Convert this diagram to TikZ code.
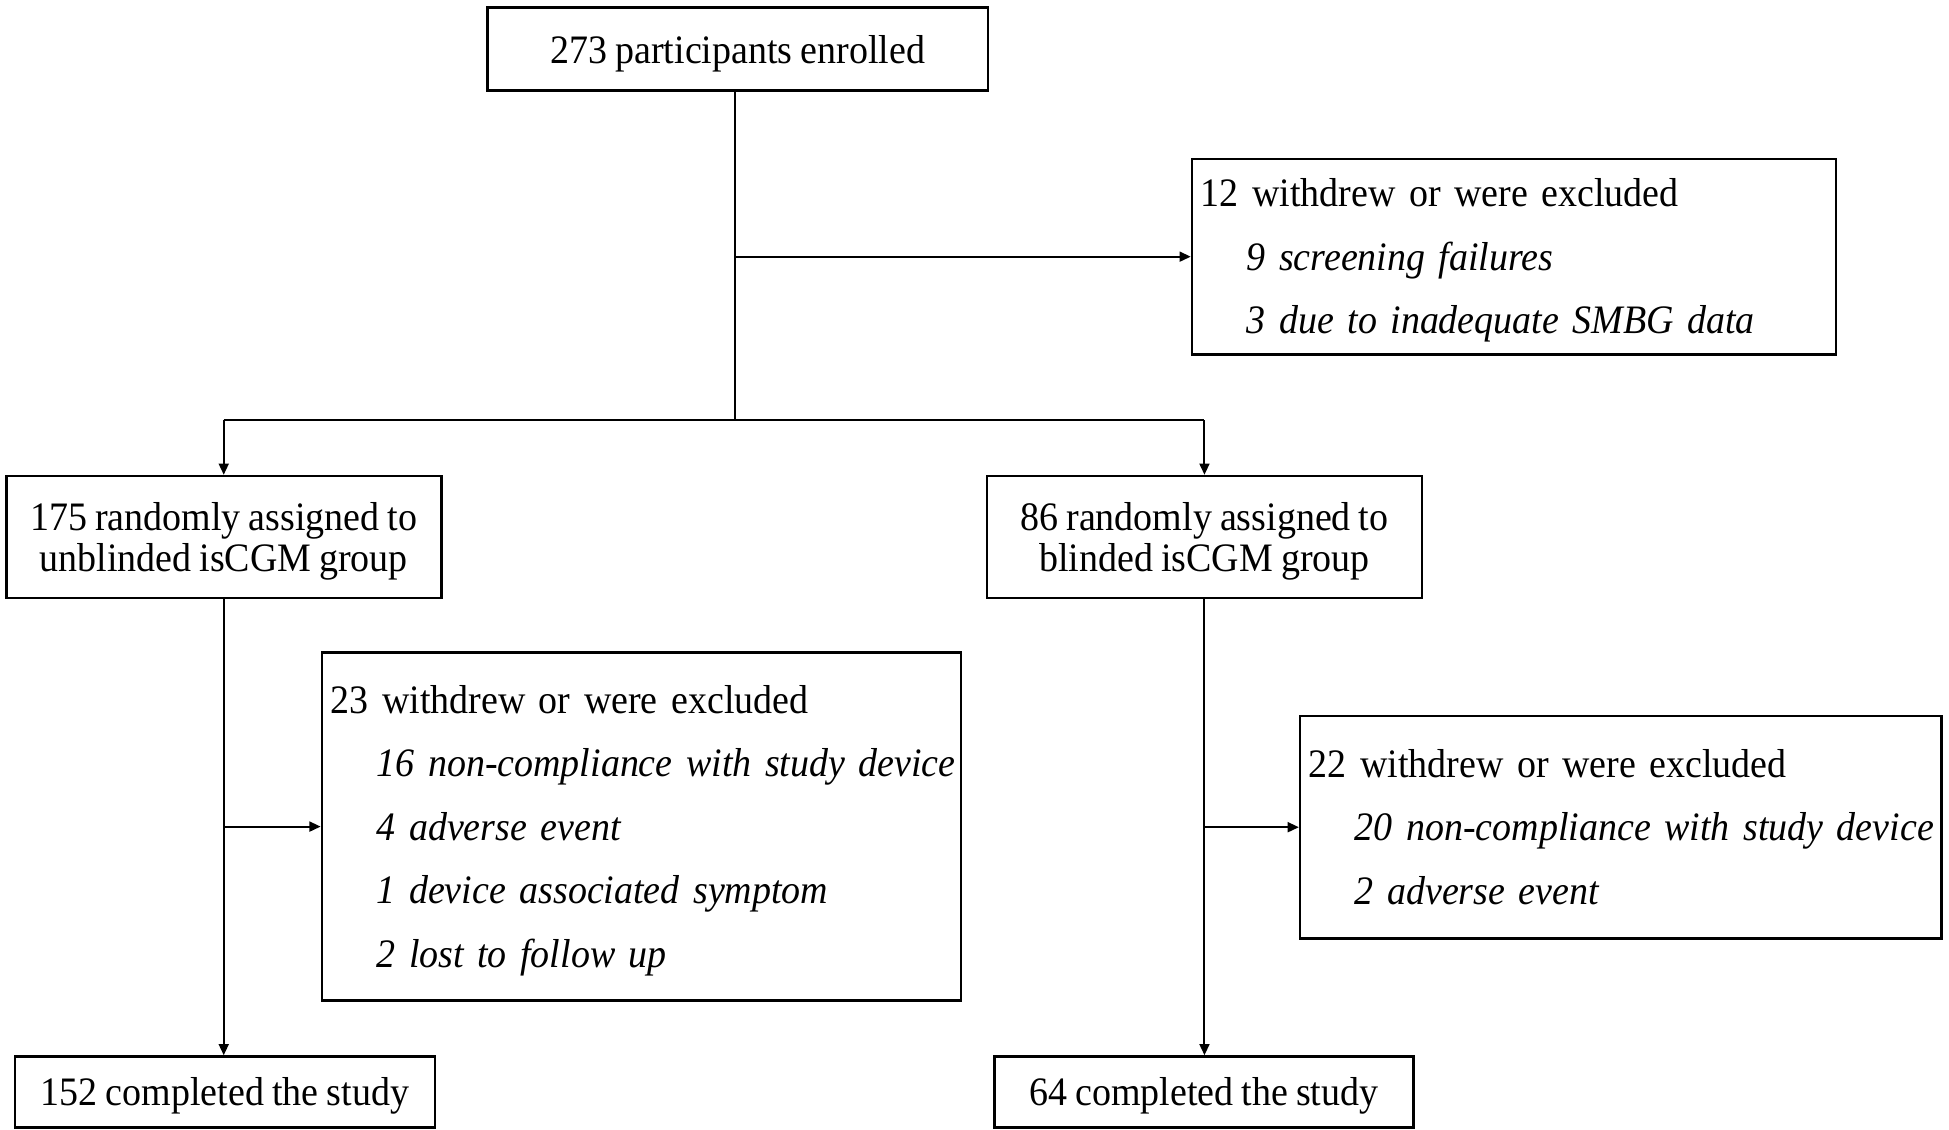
\documentclass[tikz,border=0pt]{standalone}
\usepackage{fontspec}
\setmainfont{Liberation Serif}[FakeStretch=0.94,WordSpace=0.85]
\usetikzlibrary{arrows.meta}
\begin{document}
\begin{tikzpicture}[x=1pt,y=-1pt,
  box/.style={draw, line width=2.1pt, inner sep=0pt, align=center, text depth=0pt,
    font=\fontsize{32.5}{33}\selectfont},
  exbox/.style={draw, line width=2.1pt, inner xsep=7pt, inner ysep=0pt, align=left,
    text height=22pt, font=\fontsize{32.5}{51}\selectfont},
  conn/.style={line width=1.6pt},
  arr/.style={line width=1.6pt, -{Triangle[length=9pt,width=8pt]}}]
\useasboundingbox (0,0) rectangle (1568,909);
\fill[white] (0,0) rectangle (1568,909);
\newcommand{\ind}[1]{\mbox{\hspace*{37pt}\textit{#1}}}
\node[box, minimum width=403pt, minimum height=67pt] (top) at (593.5,39.5) {273 participants enrolled};
\node[exbox, minimum width=518pt, minimum height=157pt, text width=504pt, text depth=102pt] (ex1) at (1218,206.5)
  {\mbox{12 withdrew or were excluded}\\ \ind{9 screening failures}\\ \ind{3 due to inadequate SMBG data}};
\node[box, minimum width=350pt, minimum height=98pt] (left) at (180,432) {175 randomly assigned to\\unblinded isCGM group};
\node[box, minimum width=350pt, minimum height=98pt] (right) at (969,432) {86 randomly assigned to\\blinded isCGM group};
\node[exbox, minimum width=514pt, minimum height=280pt, text width=500pt, text depth=204pt] (ex2) at (516,665)
  {\mbox{23 withdrew or were excluded}\\ \ind{16 non-compliance with study device}\\ \ind{4 adverse event}\\ \ind{1 device associated symptom}\\ \ind{2 lost to follow up}};
\node[exbox, minimum width=516pt, minimum height=179pt, text width=502pt, text depth=102pt] (ex3) at (1304,665.5)
  {\mbox{22 withdrew or were excluded}\\ \ind{20 non-compliance with study device}\\ \ind{2 adverse event}};
\node[box, minimum width=338pt, minimum height=57pt] (done1) at (181,878.5) {152 completed the study};
\node[box, minimum width=337pt, minimum height=57pt] (done2) at (968.5,878.5) {64 completed the study};
% connectors
\coordinate (split) at (591,338);
\coordinate (b1) at (591,206.5);
\coordinate (sl) at (left.north |- split);
\coordinate (sr) at (right.north |- split);
\coordinate (b2) at (left.south |- ex2.west);
\coordinate (b3) at (right.south |- ex3.west);
\draw[conn] (top.south -| split) -- (split);
\draw[arr] (b1) -- (ex1.west);
\draw[conn] (sl) -- (sr);
\draw[arr] (sl) -- (left.north);
\draw[arr] (sr) -- (right.north);
\draw[arr] (left.south) -- (left.south |- done1.north);
\draw[arr] (right.south) -- (right.south |- done2.north);
\draw[arr] (b2) -- (ex2.west);
\draw[arr] (b3) -- (ex3.west);
\end{tikzpicture}
\end{document}
